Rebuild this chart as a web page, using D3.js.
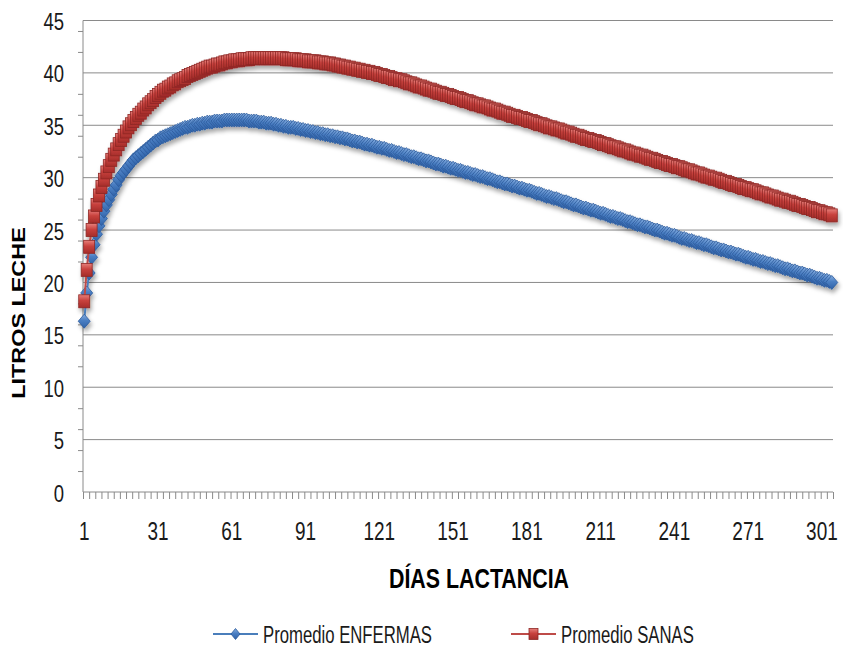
<!DOCTYPE html>
<html><head><meta charset="utf-8">
<script src="https://cdn.jsdelivr.net/npm/d3@7"></script>
<style>body{margin:0;background:#fff}svg{display:block}</style>
</head><body>
<div id="chart"></div>
<script>
const seriesNames = ["Promedio ENFERMAS", "Promedio SANAS"];
const xTickLabels = ["1","31","61","91","121","151","181","211","241","271","301"];
const yTickValues = [0,5,10,15,20,25,30,35,40,45];
const yMinorTicks = [2,4,6,8,12,14,16,18,22,24,26,28,32,34,36,38,42,44];
const enfermas = [
16.3,19.0,20.9,22.4,23.6,24.6,25.4,26.1,26.8,27.4,27.9,28.4,28.9,29.3,29.8,30.2,30.5,30.8,31.1,
31.4,31.7,31.9,32.1,32.3,32.5,32.7,32.9,33.1,33.3,
33.5,33.6,33.8,33.9,34.0,34.1,34.2,34.3,34.4,34.5,
34.6,34.7,34.8,34.8,34.9,35.0,35.0,35.1,35.1,35.2,
35.2,35.3,35.3,35.3,35.4,35.4,35.4,35.4,35.5,35.5,
35.5,35.5,35.5,35.5,35.5,35.5,35.5,35.5,35.4,35.4,
35.4,35.4,35.3,35.3,35.3,35.2,35.2,35.2,35.1,35.1,
35.0,35.0,34.9,34.9,34.8,34.8,34.8,34.7,34.7,34.6,
34.6,34.5,34.5,34.4,34.4,34.3,34.3,34.2,34.2,34.1,
34.1,34.0,34.0,33.9,33.9,33.8,33.8,33.7,33.7,33.6,
33.5,33.5,33.4,33.4,33.3,33.2,33.2,33.1,33.1,33.0,
32.9,32.9,32.8,32.8,32.7,32.6,32.6,32.5,32.4,32.4,
32.3,32.2,32.2,32.1,32.0,32.0,31.9,31.8,31.8,31.7,
31.6,31.6,31.5,31.4,31.3,31.3,31.2,31.1,31.1,31.0,
30.9,30.9,30.8,30.7,30.7,30.6,30.5,30.5,30.4,30.3,
30.3,30.2,30.1,30.1,30.0,29.9,29.9,29.8,29.7,29.6,
29.6,29.5,29.4,29.4,29.3,29.2,29.2,29.1,29.0,29.0,
28.9,28.8,28.8,28.7,28.6,28.5,28.5,28.4,28.3,28.2,
28.2,28.1,28.0,28.0,27.9,27.8,27.7,27.7,27.6,27.5,
27.4,27.4,27.3,27.2,27.1,27.1,27.0,26.9,26.9,26.8,
26.7,26.6,26.6,26.5,26.4,26.3,26.3,26.2,26.1,26.1,
26.0,25.9,25.8,25.8,25.7,25.6,25.5,25.5,25.4,25.3,
25.3,25.2,25.1,25.0,25.0,24.9,24.8,24.7,24.7,24.6,
24.5,24.5,24.4,24.3,24.2,24.2,24.1,24.0,24.0,23.9,
23.8,23.8,23.7,23.6,23.6,23.5,23.4,23.3,23.3,23.2,
23.1,23.1,23.0,22.9,22.9,22.8,22.7,22.7,22.6,22.5,
22.4,22.4,22.3,22.2,22.2,22.1,22.0,22.0,21.9,21.8,
21.8,21.7,21.6,21.6,21.5,21.4,21.3,21.3,21.2,21.1,
21.1,21.0,20.9,20.9,20.8,20.7,20.7,20.6,20.5,20.4,
20.4,20.3,20.2,20.2,20.1,20.0
];
const sanas = [
18.2,21.2,23.4,25.0,26.3,27.4,28.3,29.1,29.8,30.5,31.1,31.7,32.2,32.7,33.2,33.6,34.0,34.4,34.8,
35.1,35.4,35.7,36.0,36.2,36.5,36.7,37.0,37.2,37.4,
37.7,37.9,38.1,38.3,38.4,38.6,38.7,38.9,39.0,39.2,
39.3,39.4,39.5,39.7,39.8,39.9,40.0,40.1,40.2,40.3,
40.4,40.5,40.6,40.6,40.7,40.8,40.8,40.9,41.0,41.0,
41.1,41.1,41.2,41.2,41.2,41.3,41.3,41.3,41.3,41.4,
41.4,41.4,41.4,41.4,41.4,41.4,41.4,41.4,41.4,41.4,
41.4,41.4,41.4,41.3,41.3,41.3,41.3,41.3,41.2,41.2,
41.2,41.2,41.1,41.1,41.1,41.1,41.0,41.0,41.0,40.9,
40.9,40.9,40.8,40.8,40.7,40.7,40.6,40.6,40.5,40.5,
40.4,40.4,40.3,40.3,40.2,40.2,40.1,40.1,40.0,40.0,
39.9,39.8,39.8,39.7,39.6,39.6,39.5,39.4,39.4,39.3,
39.3,39.2,39.1,39.0,39.0,38.9,38.8,38.7,38.7,38.6,
38.5,38.4,38.4,38.3,38.2,38.1,38.1,38.0,37.9,37.9,
37.8,37.7,37.6,37.6,37.5,37.4,37.3,37.3,37.2,37.1,
37.0,37.0,36.9,36.8,36.8,36.7,36.6,36.5,36.5,36.4,
36.3,36.2,36.2,36.1,36.0,35.9,35.9,35.8,35.7,35.7,
35.6,35.5,35.4,35.4,35.3,35.2,35.1,35.1,35.0,34.9,
34.8,34.8,34.7,34.6,34.6,34.5,34.4,34.3,34.3,34.2,
34.1,34.0,34.0,33.9,33.8,33.7,33.7,33.6,33.5,33.5,
33.4,33.3,33.2,33.2,33.1,33.0,32.9,32.9,32.8,32.7,
32.6,32.6,32.5,32.4,32.3,32.3,32.2,32.1,32.1,32.0,
31.9,31.8,31.8,31.7,31.6,31.5,31.5,31.4,31.3,31.2,
31.2,31.1,31.0,31.0,30.9,30.8,30.7,30.7,30.6,30.5,
30.4,30.4,30.3,30.2,30.1,30.1,30.0,29.9,29.9,29.8,
29.7,29.6,29.6,29.5,29.4,29.3,29.3,29.2,29.1,29.0,
29.0,28.9,28.8,28.8,28.7,28.6,28.5,28.5,28.4,28.3,
28.2,28.2,28.1,28.0,27.9,27.9,27.8,27.7,27.7,27.6,
27.5,27.4,27.4,27.3,27.2,27.1,27.1,27.0,26.9,26.8,
26.8,26.7,26.6,26.6,26.5,26.4
];
const days = enfermas.map((_, i) => i + 1);

const W = 843, H = 647;
const L = 83, R = 833, T = 20.5, B = 492;
const svg = d3.select("#chart").append("svg").attr("width", W).attr("height", H);
const defs = svg.append("defs");

const gr = defs.append("linearGradient").attr("id","gRed").attr("x1",0).attr("y1",0).attr("x2",0).attr("y2",1);
gr.append("stop").attr("offset","0%").attr("stop-color","#e7807b");
gr.append("stop").attr("offset","45%").attr("stop-color","#c8413d");
gr.append("stop").attr("offset","100%").attr("stop-color","#a52d2a");
const gb = defs.append("linearGradient").attr("id","gBlue").attr("x1",0).attr("y1",0).attr("x2",0).attr("y2",1);
gb.append("stop").attr("offset","0%").attr("stop-color","#86aee0");
gb.append("stop").attr("offset","45%").attr("stop-color","#4a7ec2");
gb.append("stop").attr("offset","100%").attr("stop-color","#2f62a8");
const f = defs.append("filter").attr("id","shadow").attr("x","-20%").attr("y","-20%").attr("width","140%").attr("height","160%");
f.append("feDropShadow").attr("dx",1.5).attr("dy",3.5).attr("stdDeviation",2).attr("flood-color","#000").attr("flood-opacity",0.35);

const x = d3.scaleLinear().domain([0.5, days.length + 0.5]).range([L, R]);
const y = d3.scaleLinear().domain([0, 45]).range([B, T]);

// gridlines
svg.append("g").selectAll("line").data(yTickValues.filter(v => v > 0)).join("line")
  .attr("x1", L).attr("x2", R).attr("y1", d => y(d)).attr("y2", d => y(d))
  .attr("stroke", "#8a8a8a").attr("stroke-width", 1);

// y axis
const yAxis = d3.axisLeft(y).tickValues(yMinorTicks).tickSize(5).tickFormat("");
const ya = svg.append("g").attr("transform", `translate(${L},0)`).call(yAxis);
ya.selectAll("path,line").attr("stroke", "#8a8a8a");
ya.select("path").attr("d", `M0,${T}V${B}`);

// x axis with tick marks every 2.5 categories
const xTickPos = d3.range(0, days.length + 0.01, 2.5).map(v => v + 0.5);
const xAxis = d3.axisBottom(x).tickValues(xTickPos).tickSize(7).tickFormat("");
const xa = svg.append("g").attr("transform", `translate(0,${B})`).call(xAxis);
xa.selectAll("path,line").attr("stroke", "#8a8a8a");
xa.select("path").attr("d", `M${L},0H${R}`);

function stretchText(g, txt, tx, ty, opts) {
  return g.append("text")
    .attr("transform", `translate(${tx},${ty}) ${opts.rot ? "rotate(" + opts.rot + ")" : ""} scale(${opts.sx || 1},${opts.sy || 1})`)
    .attr("text-anchor", opts.anchor || "middle")
    .attr("dy", "0.35em")
    .attr("font-family", "'Liberation Sans', Arial, sans-serif")
    .attr("font-size", opts.size)
    .attr("font-weight", opts.weight || "normal")
    .attr("fill", opts.fill || "#1a1a1a")
    .text(txt);
}

// y labels
const lab = svg.append("g");
yTickValues.forEach(v => stretchText(lab, String(v), 64, y(v) + 1, {anchor: "end", size: 19.5, sy: 1.25, sx: 0.95}));
// x labels
xTickLabels.forEach(s => stretchText(lab, s, x(+s), 531, {size: 20, sy: 1.27, sx: 0.95}));

// axis titles
stretchText(lab, "LITROS LECHE", 19, 313, {rot: -90, size: 18, weight: "bold", sx: 1.3, fill: "#000"});
stretchText(lab, "DÍAS LACTANCIA", 479, 578, {size: 22.5, weight: "bold", sy: 1.22, sx: 0.95, fill: "#000"});

// series
const diamond = "M0,-7L6,0L0,7L-6,0Z";
const seriesDefs = [
  {name: seriesNames[0], vals: enfermas, line: "#4a7ebb", fill: "url(#gBlue)", stroke: "#2c5b9c", shape: "diamond"},
  {name: seriesNames[1], vals: sanas, line: "#be4b48", fill: "url(#gRed)", stroke: "#8e2725", shape: "square"}
];
const plot = svg.append("g").attr("filter", "url(#shadow)");
seriesDefs.forEach(s => {
  const line = d3.line().x((d, i) => x(days[i])).y(d => y(d));
  plot.append("path").attr("d", line(s.vals)).attr("fill", "none").attr("stroke", s.line).attr("stroke-width", 2);
  const g = plot.append("g");
  if (s.shape === "diamond") {
    g.selectAll("path").data(s.vals).join("path")
      .attr("d", diamond)
      .attr("transform", (d, i) => `translate(${x(days[i])},${y(d)})`)
      .attr("fill", s.fill).attr("stroke", s.stroke).attr("stroke-width", 0.8);
  } else {
    g.selectAll("rect").data(s.vals).join("rect")
      .attr("x", (d, i) => x(days[i]) - 5.5).attr("y", d => y(d) - 6.5)
      .attr("width", 11).attr("height", 13)
      .attr("fill", s.fill).attr("stroke", s.stroke).attr("stroke-width", 0.8);
  }
});

// legend
const lg = svg.append("g");
const legendItems = [
  {s: seriesDefs[0], x0: 213, x1: 258, tx: 263},
  {s: seriesDefs[1], x0: 511, x1: 556, tx: 561}
];
legendItems.forEach(it => {
  const cy = 634;
  lg.append("line").attr("x1", it.x0).attr("x2", it.x1).attr("y1", cy).attr("y2", cy)
    .attr("stroke", it.s.line).attr("stroke-width", 2);
  const cx = (it.x0 + it.x1) / 2;
  if (it.s.shape === "diamond") {
    lg.append("path").attr("d", "M0,-5.5L4.5,0L0,5.5L-4.5,0Z").attr("transform", `translate(${cx},${cy})`)
      .attr("fill", it.s.fill).attr("stroke", it.s.stroke).attr("stroke-width", 0.8);
  } else {
    lg.append("rect").attr("x", cx - 4.5).attr("y", cy - 5.5).attr("width", 9).attr("height", 11)
      .attr("fill", it.s.fill).attr("stroke", it.s.stroke).attr("stroke-width", 0.8);
  }
  stretchText(lg, it.s.name, it.tx, cy, {anchor: "start", size: 19, sy: 1.3, sx: 0.88});
});
</script>
</body></html>
